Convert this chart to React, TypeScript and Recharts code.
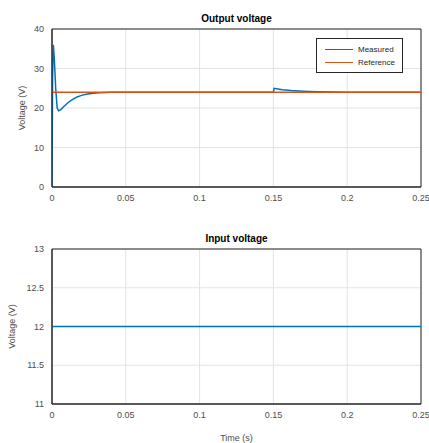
import { LineChart, Line, XAxis, YAxis, CartesianGrid, ReferenceArea } from 'recharts'

const timeTicks = [0, 0.05, 0.1, 0.15, 0.2, 0.25]
const outTicks = [0, 10, 20, 30, 40]
const inTicks = [11, 11.5, 12, 12.5, 13]

const measuredTime = [0, 0.0004, 0.0009, 0.0015, 0.0025, 0.0035, 0.0045, 0.006, 0.008, 0.011, 0.014, 0.017, 0.02, 0.024, 0.028, 0.032, 0.036, 0.04, 0.1, 0.15, 0.1505, 0.152, 0.156, 0.162, 0.17, 0.18, 0.19, 0.2, 0.25]
const measuredV = [0, 28, 36, 33, 25, 20, 19.3, 19.6, 20.4, 21.4, 22.2, 22.8, 23.2, 23.55, 23.75, 23.88, 23.95, 24, 24, 24, 25, 24.9, 24.6, 24.4, 24.25, 24.12, 24.05, 24, 24]

const refTime = [0, 0.25]
const refV = [24, 24]

const inputTime = [0, 0.25]
const inputV = [12, 12]

const BLUE = '#0072BD'
const ORANGE = '#D95319'
const FONT = '"Liberation Sans", Arial, sans-serif'
const TICK = { fontSize: 9, fill: '#4d4d4d', fontFamily: FONT }

const measuredData = measuredTime.map((t, i) => ({ t, v: measuredV[i] }))
const refData = refTime.map((t, i) => ({ t, v: refV[i] }))
const inputData = inputTime.map((t, i) => ({ t, v: inputV[i] }))

function LegendBox() {
  const items = [
    { name: 'Measured', color: BLUE },
    { name: 'Reference', color: ORANGE },
  ]
  return (
    <div
      style={{
        position: 'absolute',
        left: 316,
        top: 38,
        width: 87,
        height: 35,
        border: '1px solid #262626',
        background: '#fff',
        fontFamily: FONT,
        fontSize: 8,
        color: '#262626',
        boxSizing: 'border-box',
        paddingTop: 4,
      }}
    >
      {items.map((it) => (
        <div key={it.name} style={{ display: 'flex', alignItems: 'center', height: 13 }}>
          <span style={{ display: 'inline-block', width: 28, height: 0, borderTop: `1.5px solid ${it.color}`, marginLeft: 8, marginRight: 5 }} />
          <span>{it.name}</span>
        </div>
      ))}
    </div>
  )
}

export default function App() {
  const axisLine = { stroke: '#262626', strokeWidth: 1 }
  const titleStyle = { position: 'absolute' as const, left: 52, width: 369, textAlign: 'center' as const, fontFamily: FONT, fontWeight: 'bold' as const, fontSize: 10, color: '#000' }
  return (
    <div style={{ position: 'absolute', left: 0, top: 0, width: 429, height: 443, background: '#fff' }}>
      <div style={{ ...titleStyle, top: 13 }}>Output voltage</div>
      <div style={{ position: 'absolute', top: 0, left: 0 }}>
        <LineChart width={429} height={220} margin={{ top: 29, right: 8, left: 0, bottom: 0 }}>
          <CartesianGrid stroke="#e3e3e3" strokeWidth={1} />
          <XAxis dataKey="t" type="number" domain={[0, 0.25]} ticks={timeTicks} height={33} tick={TICK} tickLine={false} axisLine={axisLine} allowDataOverflow />
          <YAxis type="number" domain={[0, 40]} ticks={outTicks} width={52} tick={TICK} tickLine={false} axisLine={axisLine}
            label={{ value: 'Voltage (V)', angle: -90, position: 'insideLeft', offset: 22, style: { fontSize: 9, fill: '#4d4d4d', fontFamily: FONT, textAnchor: 'middle' } }} />
          <ReferenceArea x1={0} x2={0.25} y1={0} y2={40} fill="none" stroke="#262626" strokeWidth={1} ifOverflow="visible" />
          <Line data={measuredData} dataKey="v" name="Measured" stroke={BLUE} strokeWidth={1.5} dot={false} isAnimationActive={false} />
          <Line data={refData} dataKey="v" name="Reference" stroke={ORANGE} strokeWidth={1.5} dot={false} isAnimationActive={false} />
        </LineChart>
      </div>
      <LegendBox />
      <div style={{ ...titleStyle, top: 233 }}>Input voltage</div>
      <div style={{ position: 'absolute', top: 220, left: 0 }}>
        <LineChart width={429} height={223} margin={{ top: 29, right: 8, left: 0, bottom: 0 }}>
          <CartesianGrid stroke="#e3e3e3" strokeWidth={1} />
          <XAxis dataKey="t" type="number" domain={[0, 0.25]} ticks={timeTicks} height={39} tick={TICK} tickLine={false} axisLine={axisLine}
            label={{ value: 'Time (s)', position: 'insideBottom', offset: 2, style: { fontSize: 9, fill: '#4d4d4d', fontFamily: FONT } }} />
          <YAxis type="number" domain={[11, 13]} ticks={inTicks} width={52} tick={TICK} tickLine={false} axisLine={axisLine}
            label={{ value: 'Voltage (V)', angle: -90, position: 'insideLeft', offset: 12, style: { fontSize: 9, fill: '#4d4d4d', fontFamily: FONT, textAnchor: 'middle' } }} />
          <ReferenceArea x1={0} x2={0.25} y1={11} y2={13} fill="none" stroke="#262626" strokeWidth={1} ifOverflow="visible" />
          <Line data={inputData} dataKey="v" stroke={BLUE} strokeWidth={1.5} dot={false} isAnimationActive={false} />
        </LineChart>
      </div>
    </div>
  )
}
